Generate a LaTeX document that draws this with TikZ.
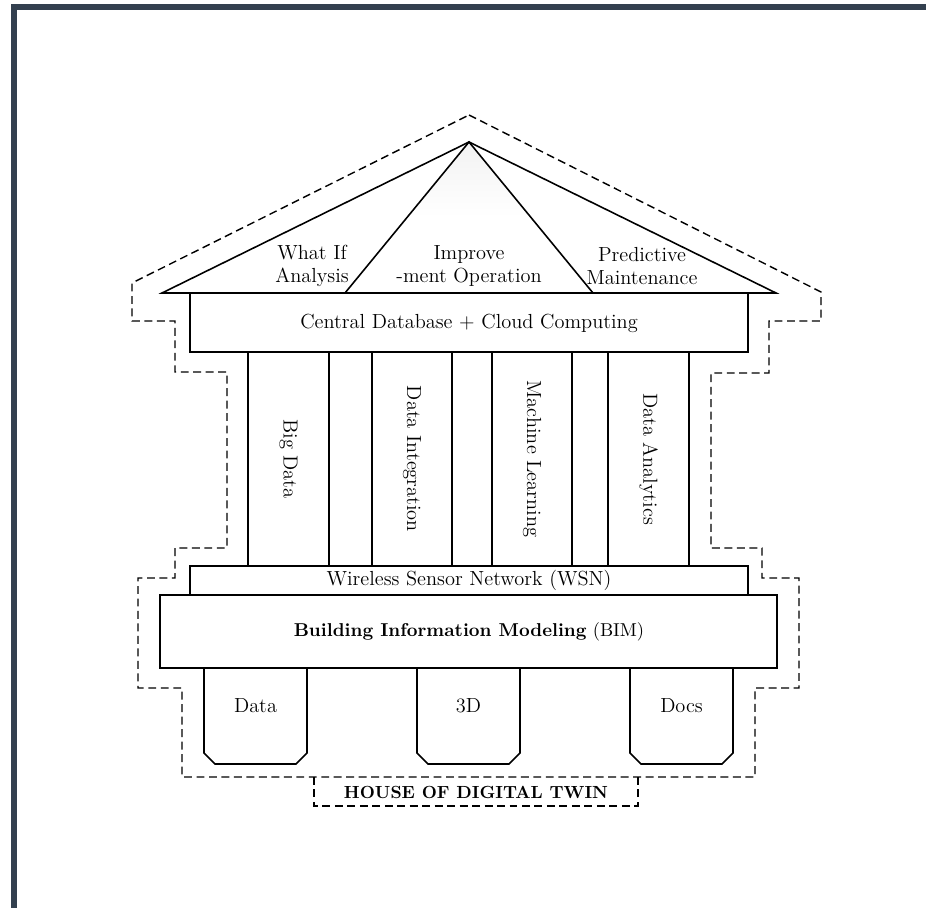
\documentclass[tikz,border=0pt]{standalone}
\usepackage{tikz}

\begin{document}
\begin{tikzpicture}[x=0.02cm, y=-0.02cm,
  part/.style={line width=0.9pt, line join=miter},
  outline/.style={line width=0.8pt, dash pattern=on 4.5pt off 2.6pt},
  lbl/.style={font=\fontsize{11.6}{13.2}\selectfont, inner sep=0pt, align=center},
  pillar/.style={lbl, rotate=-90}]

\definecolor{frameslate}{rgb}{0.2,0.25,0.31}

\useasboundingbox (0,0) rectangle (926,908);
\fill[frameslate] (11,4) rectangle (926,10);
\fill[frameslate] (11,4) rectangle (17,908);

% roof
\shade[top color=gray!10, bottom color=white, middle color=white] (469,142)--(345,293)--(593,293)--cycle;
\draw[part] (162,293)--(469,142)--(776,293)--cycle;
\draw[part] (345,293)--(469,142)--(593,293);

\node[lbl] (whatif) at (312,266) {What If\\Analysis};
\node[lbl] (improve) at (469,266) {Improve\\-ment Operation};
\node[lbl] (predict) at (642,266) {Predictive\\Maintenance};

% central database
\draw[part] (190,293) rectangle (748,352);
\node[lbl] (cloud) at (469,323) {Central Database + Cloud Computing};

% pillars
\draw[part] (248,352) rectangle (329,566);
\draw[part] (372,352) rectangle (452,566);
\draw[part] (492,352) rectangle (572,566);
\draw[part] (608,352) rectangle (689,566);

\node[pillar] (bigdata) at (288.5,459) {Big Data};
\node[pillar] (integ) at (412,459) {Data Integration};
\node[pillar] (mlearn) at (532,459) {Machine Learning};
\node[pillar] (analytics) at (648.5,459) {Data Analytics};

% base
\draw[part] (190,566) rectangle (748,595);
\node[lbl] (wsn) at (469,580) {Wireless Sensor Network (WSN)};
\draw[part] (160,595) rectangle (777,668);
\node[lbl, font=\fontsize{10.6}{13}\selectfont] (bim) at (469,632) {\textbf{Building Information Modeling} (BIM)};

% feet
\draw[part] (204,668)--(204,753)--(215,764)--(296,764)--(307,753)--(307,668);
\draw[part] (417,668)--(417,753)--(428,764)--(509,764)--(520,753)--(520,668);
\draw[part] (630,668)--(630,753)--(641,764)--(722,764)--(733,753)--(733,668);

\node[lbl] (data) at (255.5,706) {Data};
\node[lbl] (threed) at (468.5,706) {3D};
\node[lbl] (docs) at (681.5,706) {Docs};

% dashed house
\draw[outline] (469,115)--(821,292)--(821,321)--(769,321)--(769,373)--(711,373)--(711,548)
  --(762,548)--(762,578)--(799,578)--(799,688)--(755,688)--(755,777)--(182,777)--(182,688)
  --(138,688)--(138,578)--(175,578)--(175,548)--(227,548)--(227,372)--(175,372)--(175,321)
  --(132,321)--(132,283)--cycle;
\draw[outline] (314,777)--(314,806)--(638,806)--(638,777);
\node[lbl, font=\fontsize{10}{12}\selectfont\bfseries] (title) at (476,792) {HOUSE OF DIGITAL TWIN};

\end{tikzpicture}
\end{document}
